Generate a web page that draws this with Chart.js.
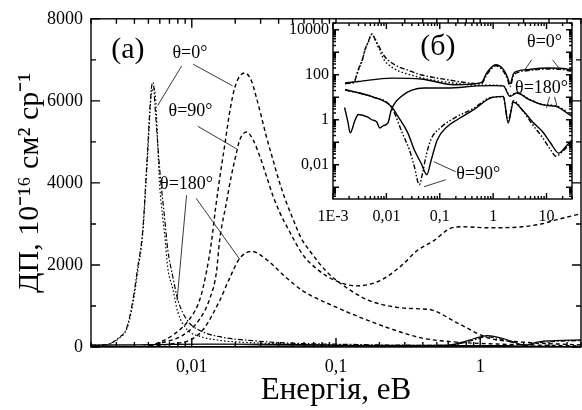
<!DOCTYPE html>
<html>
<head>
<meta charset="utf-8">
<script src="https://cdn.jsdelivr.net/npm/chart.js@4.4.1/dist/chart.umd.min.js"></script>
<style>
    html, body { margin: 0; padding: 0; background: #fff; }
    #wrap { position: relative; width: 582px; height: 410px; }
    #main { position: absolute; left: 0; top: 0; }
    #inset { position: absolute; left: 270px; top: 0; }
</style>
</head>
<body>
<div id="wrap">
    <canvas id="main" width="582" height="410"></canvas>
    <canvas id="inset" width="312" height="230"></canvas>
</div>
<script>
// Panel (а): dashed curves, energy in eV, DCS in 1e-16 cm2 sr-1
const energyTheta0 = [0.0045, 0.0057, 0.0074, 0.0097, 0.0114, 0.0126, 0.0137, 0.0146, 0.0157, 0.0170, 0.0184, 0.0199, 0.0215, 0.0233, 0.0259, 0.0280, 0.0304, 0.0329, 0.0365, 0.0406, 0.0452, 0.0502, 0.0574, 0.0656, 0.0855, 0.1177, 0.1705, 0.2611, 0.3784, 0.4654, 0.6823, 1.154, 1.953, 5.0];
const dcsTheta0 = [10, 90, 290, 690, 1170, 1810, 2570, 3370, 4170, 4970, 5770, 6330, 6600, 6680, 6490, 6090, 5610, 5130, 4570, 4010, 3530, 3130, 2650, 2350, 1850, 1450, 1130, 970, 930, 900, 600, 216, 120, 50];

const energyTheta90 = [0.0050, 0.0060, 0.0087, 0.0114, 0.0133, 0.0148, 0.0156, 0.0174, 0.0188, 0.0204, 0.0215, 0.0240, 0.0266, 0.0296, 0.0329, 0.0365, 0.0406, 0.0477, 0.0589, 0.0769, 0.1003, 0.138, 0.2, 0.29, 0.359, 0.48, 0.61, 0.75, 1.154, 1.953, 2.686, 3.357, 5.0];
const dcsTheta90 = [20, 90, 290, 690, 1170, 1810, 2600, 3530, 4170, 4730, 5050, 5240, 5050, 4650, 4170, 3690, 3290, 2810, 2250, 1850, 1610, 1490, 1610, 2010, 2330, 2600, 2880, 2930, 2906, 2930, 3003, 3099, 3250];

const energyTheta180 = [0.0051, 0.0070, 0.0097, 0.0119, 0.0156, 0.0183, 0.0215, 0.0260, 0.0330, 0.0452, 0.0589, 0.1003, 0.1454, 0.2346, 0.3969, 0.6823, 1.354, 5.0];
const dcsTheta180 = [20, 70, 170, 410, 1130, 1680, 2160, 2330, 2130, 1690, 1370, 970, 730, 456, 216, 120, 70, 25];

// Curves drawn in both panels (panel (б) shows them on log-log axes)
const energySolid0 = [0.00169, 0.0030, 0.0124, 0.0445, 0.184, 0.6, 0.76, 0.9, 1.12, 1.5, 1.85, 2.07, 2.4, 3.0, 4.2, 11, 20, 30];
const dcsSolid0 = [43, 50, 71, 65, 36, 45, 120, 200, 278, 190, 80, 40, 110, 150, 167, 199, 190, 160];

const energyDashDot0 = [0.00169, 0.0022, 0.0026, 0.0028, 0.0031, 0.00355, 0.0039, 0.0042, 0.00458, 0.00488, 0.0053, 0.0054, 0.00555, 0.0060, 0.0065, 0.0068, 0.0074, 0.0080, 0.0093, 0.0114, 0.0165, 0.0252, 0.0445, 0.14, 0.3, 0.6, 0.76, 0.9, 1.12, 1.5, 1.85, 2.07, 2.4, 3.0, 4.2, 11, 20, 30];
const dcsDashDot0 = [42, 44, 60, 110, 220, 480, 1130, 1900, 2880, 4490, 6410, 6450, 5900, 4300, 3100, 2400, 1700, 1150, 650, 400, 234, 160, 100, 60, 45, 40, 100, 170, 250, 160, 65, 30, 90, 130, 150, 180, 170, 140];

const energyDotted180 = [0.00169, 0.0022, 0.0026, 0.0028, 0.0031, 0.00355, 0.0039, 0.0042, 0.00458, 0.00488, 0.0053, 0.0055, 0.0060, 0.0065, 0.0068, 0.0074, 0.0080, 0.0093, 0.0114, 0.0165, 0.0216, 0.068, 0.184, 0.5, 1.0, 1.55, 2.07, 2.75, 4.84, 8.6, 15, 30];
const dcsDotted180 = [40, 42, 55, 100, 200, 450, 1050, 1800, 2800, 4350, 6250, 6300, 3900, 2700, 1950, 1400, 850, 420, 260, 150, 119, 60, 43, 34, 34, 32, 12, 16, 8, 4.8, 4.2, 1.6];

const energySolid90 = [0.00169, 0.00527, 0.0124, 0.0165, 0.0252, 0.0333, 0.0445, 0.0574, 0.068, 0.09, 0.139, 0.212, 0.434, 0.88, 1.55, 1.91, 2.4, 3.64, 5.5, 8.6, 12, 16.9, 23, 30];
const dcsSolid90 = [21.5, 10.9, 3.9, 1.4, 0.26, 0.046, 0.0119, 0.0036, 0.014, 0.13, 0.5, 1.0, 2.8, 9.2, 10.9, 0.71, 6, 2.5, 0.8, 0.28, 0.09, 0.033, 0.065, 0.13];

const energyDashDotDot90 = [0.00169, 0.00527, 0.0124, 0.0204, 0.027, 0.0333, 0.0413, 0.0477, 0.055, 0.068, 0.104, 0.2, 0.43, 0.88, 1.55, 1.91, 2.4, 3.64, 5.5, 8.6, 12, 15, 20, 30];
const dcsDashDotDot90 = [21, 10.5, 3.6, 0.22, 0.046, 0.0085, 0.0013, 0.0043, 0.023, 0.13, 0.45, 1.3, 3.2, 9.5, 10.5, 0.9, 7, 2.4, 0.6, 0.15, 0.045, 0.024, 0.04, 0.1];

const energySolid180 = [0.00165, 0.0019, 0.0021, 0.0026, 0.0030, 0.0045, 0.0053, 0.0066, 0.0075, 0.0088, 0.0107, 0.0124, 0.019, 0.0512, 0.139, 0.5, 1.0, 1.55, 2.07, 2.75, 4.84, 8.6, 15, 30];
const dcsSolid180 = [3.5, 0.8, 0.26, 1.0, 1.7, 1.3, 1.0, 0.8, 0.43, 0.55, 0.72, 2.8, 10.9, 25.6, 25.6, 32, 33, 32, 10.9, 15.4, 7.7, 4.6, 3.9, 1.4];

// Tick labels
const mainXTicks = [0.01, 0.1, 1];
const mainXTickLabels = ["0,01", "0,1", "1"];
const insetXTicks = [0.001, 0.01, 0.1, 1, 10];
const insetXTickLabels = ["1E-3", "0,01", "0,1", "1", "10"];
const insetYTicks = [0.01, 1, 100, 10000];
const insetYTickLabels = ["0,01", "1", "100", "10000"];

const FONT = "'Liberation Serif', 'Times New Roman', serif";
Chart.defaults.font.family = FONT;
Chart.defaults.color = "#000";

/**
 * Zips energies and values into chart points
 * @param {Array} energies x values
 * @param {Array} values y values
 * @returns {Array} points
 */
function _toPoints(energies, values) {
    return energies.map((e, i) => ({ x: e, y: values[i] }));
}

/**
 * Returns major (decade) and minor ticks of a log axis
 */
function _logTicks(min, max) {
    const major = [];
    const minor = [];
    for (let n = Math.floor(Math.log10(min)); n <= Math.ceil(Math.log10(max)); n++) {
        for (let k = 1; k <= 9; k++) {
            const v = k * Math.pow(10, n);
            if (v < min * 0.999 || v > max * 1.001) continue;
            (k === 1 ? major : minor).push(v);
        }
    }
    return { major, minor };
}

/**
 * Creates line dataset
 */
function _line(points, dash, width) {
    return {
        data: points,
        borderColor: "#000",
        borderWidth: width,
        borderDash: dash,
        pointRadius: 0,
        fill: false,
        cubicInterpolationMode: "monotone",
    };
}

// Frame with inward ticks on all four sides
const frameTicksPlugin = {
    id: "frameTicks",
    beforeDatasetsDraw(chart, args, opts) {
        if (!opts.fill) return;
        const a = chart.chartArea;
        chart.ctx.save();
        chart.ctx.fillStyle = opts.fill;
        chart.ctx.fillRect(a.left, a.top, a.width, a.height);
        chart.ctx.restore();
    },
    afterDatasetsDraw(chart, args, opts) {
        const { ctx, chartArea: a, scales } = chart;
        ctx.save();
        ctx.strokeStyle = "#000";
        ctx.lineWidth = opts.lineWidth;
        ctx.beginPath();
        [[opts.x.major, opts.majorLen], [opts.x.minor, opts.minorLen]].forEach(([values, len]) => {
            values.forEach((v) => {
                const px = scales.x.getPixelForValue(v);
                ctx.moveTo(px, a.bottom);
                ctx.lineTo(px, a.bottom - len);
                ctx.moveTo(px, a.top);
                ctx.lineTo(px, a.top + len);
            });
        });
        [[opts.y.major, opts.majorLen], [opts.y.minor, opts.minorLen]].forEach(([values, len]) => {
            values.forEach((v) => {
                const py = scales.y.getPixelForValue(v);
                ctx.moveTo(a.left, py);
                ctx.lineTo(a.left + len, py);
                ctx.moveTo(a.right, py);
                ctx.lineTo(a.right - len, py);
            });
        });
        ctx.stroke();
        ctx.strokeRect(a.left, a.top, a.width, a.height);
        ctx.restore();
    },
};

// Text labels and leader lines, placed in data coordinates
const notesPlugin = {
    id: "notes",
    afterDraw(chart, args, opts) {
        const { ctx, scales } = chart;
        ctx.save();
        ctx.fillStyle = "#000";
        ctx.strokeStyle = "#222";
        ctx.lineWidth = 0.9;
        ctx.textAlign = "center";
        ctx.textBaseline = "middle";
        opts.items.forEach((item) => {
            ctx.font = `${item.size || 18}px ${FONT}`;
            ctx.fillText(item.text, scales.x.getPixelForValue(item.x), scales.y.getPixelForValue(item.y));
            (item.lines || []).forEach((l) => {
                ctx.beginPath();
                ctx.moveTo(scales.x.getPixelForValue(l[0]), scales.y.getPixelForValue(l[1]));
                ctx.lineTo(scales.x.getPixelForValue(l[2]), scales.y.getPixelForValue(l[3]));
                ctx.stroke();
            });
        });
        ctx.restore();
    },
};

const mainNotes = [
    { text: "(а)", x: 0.0036, y: 7230, size: 30 },
    { text: "θ=0°", x: 0.0097, y: 7160, lines: [[0.0085, 6850, 0.0058, 5885], [0.0102, 6894, 0.0192, 6365]] },
    { text: "θ=90°", x: 0.0098, y: 5741, lines: [[0.0110, 5380, 0.0205, 4828]] },
    { text: "θ=180°", x: 0.0092, y: 3963, lines: [[0.0092, 3699, 0.0079, 1129], [0.0107, 3627, 0.0215, 2138]] },
];

const insetNotes = [
    { text: "(б)", x: 0.0918, y: 1754, size: 30 },
    { text: "θ=0°", x: 9.18, y: 2929, lines: [[5.27, 464, 3.92, 167], [12.9, 464, 18.2, 167]] },
    { text: "θ=180°", x: 8.07, y: 26.4, lines: [[11.4, 10.5, 10, 3.4], [14.1, 10.5, 16, 3.4]] },
    { text: "θ=90°", x: 0.527, y: 0.0036, lines: [[0.198, 0.0049, 0.0774, 0.0136], [0.129, 0.00215, 0.0506, 0.00105]] },
];

const DASH = [4, 3];
const DASH_DOT = [5, 2, 1.5, 2];
const DOTTED = [1.5, 2.2];
const DASH_DOT_DOT = [5, 2, 1.5, 2, 1.5, 2];

/**
 * Datasets shared by both panels
 */
function _sharedDatasets(width) {
    return [
        _line(_toPoints(energySolid0, dcsSolid0), [], width),
        _line(_toPoints(energySolid90, dcsSolid90), [], width),
        _line(_toPoints(energySolid180, dcsSolid180), [], width),
        _line(_toPoints(energyDashDot0, dcsDashDot0), DASH_DOT, width),
        _line(_toPoints(energyDotted180, dcsDotted180), DOTTED, width),
        _line(_toPoints(energyDashDotDot90, dcsDashDotDot90), DASH_DOT_DOT, width),
    ];
}

// Main panel
const MAIN_X = { min: 0.002, max: 5 };
new Chart(document.getElementById("main"), {
    type: "line",
    data: {
        datasets: [
            _line(_toPoints(energyTheta0, dcsTheta0), DASH, 1.4),
            _line(_toPoints(energyTheta90, dcsTheta90), DASH, 1.4),
            _line(_toPoints(energyTheta180, dcsTheta180), DASH, 1.4),
            ..._sharedDatasets(1.2),
        ],
    },
    options: {
        responsive: false,
        animation: false,
        devicePixelRatio: 1,
        layout: { padding: { top: 14, right: 1, left: 0, bottom: 0 } },
        scales: {
            x: {
                type: "logarithmic",
                min: MAIN_X.min,
                max: MAIN_X.max,
                grid: { display: false, drawTicks: false },
                border: { display: false },
                afterBuildTicks: (scale) => { scale.ticks = mainXTicks.map((v) => ({ value: v })); },
                afterFit: (scale) => { scale.height = 63; },
                ticks: {
                    autoSkip: false,
                    maxRotation: 0,
                    padding: 9,
                    font: { size: 18 },
                    callback: (value, index) => mainXTickLabels[index],
                },
                title: { display: true, text: "Енергія, еВ", font: { size: 31 }, padding: { top: 0, bottom: 1 } },
            },
            y: {
                type: "linear",
                min: 0,
                max: 8000,
                grid: { display: false, drawTicks: false },
                border: { display: false },
                afterFit: (scale) => { scale.width = 91; },
                ticks: { stepSize: 2000, padding: 8, font: { size: 18 }, callback: (value) => String(value) },
                title: { display: true, text: "ДП, 10⁻¹⁶ см² ср⁻¹", font: { size: 30 }, padding: { top: 12, bottom: 0 } },
            },
        },
        plugins: {
            legend: { display: false },
            tooltip: { enabled: false },
            frameTicks: {
                lineWidth: 1.4,
                majorLen: 9,
                minorLen: 5,
                x: _logTicks(MAIN_X.min, MAIN_X.max),
                y: { major: [0, 2000, 4000, 6000, 8000], minor: [1000, 3000, 5000, 7000] },
            },
            notes: { items: mainNotes },
        },
    },
    plugins: [frameTicksPlugin, notesPlugin],
});

// Inset panel (б)
const INSET_X = { min: 0.001, max: 30 };
const INSET_Y = { min: 3.3e-4, max: 2e4 };
new Chart(document.getElementById("inset"), {
    type: "line",
    data: { datasets: _sharedDatasets(1.4) },
    options: {
        responsive: false,
        animation: false,
        devicePixelRatio: 1,
        layout: { padding: { top: 23, right: 10, left: 0, bottom: 0 } },
        scales: {
            x: {
                type: "logarithmic",
                min: INSET_X.min,
                max: INSET_X.max,
                grid: { display: false, drawTicks: false },
                border: { display: false },
                afterBuildTicks: (scale) => { scale.ticks = insetXTicks.map((v) => ({ value: v })); },
                afterFit: (scale) => { scale.height = 31; },
                ticks: {
                    autoSkip: false,
                    maxRotation: 0,
                    padding: 8,
                    font: { size: 16 },
                    callback: (value, index) => insetXTickLabels[index],
                },
            },
            y: {
                type: "logarithmic",
                min: INSET_Y.min,
                max: INSET_Y.max,
                grid: { display: false, drawTicks: false },
                border: { display: false },
                afterBuildTicks: (scale) => { scale.ticks = insetYTicks.map((v) => ({ value: v })); },
                afterFit: (scale) => { scale.width = 63; },
                ticks: {
                    autoSkip: false,
                    padding: 4,
                    font: { size: 16 },
                    callback: (value, index) => insetYTickLabels[index],
                },
            },
        },
        plugins: {
            legend: { display: false },
            tooltip: { enabled: false },
            frameTicks: {
                fill: "#fff",
                lineWidth: 1.4,
                majorLen: 6,
                minorLen: 3,
                x: _logTicks(INSET_X.min, INSET_X.max),
                y: _logTicks(INSET_Y.min, INSET_Y.max),
            },
            notes: { items: insetNotes },
        },
    },
    plugins: [frameTicksPlugin, notesPlugin],
});
</script>
</body>
</html>
